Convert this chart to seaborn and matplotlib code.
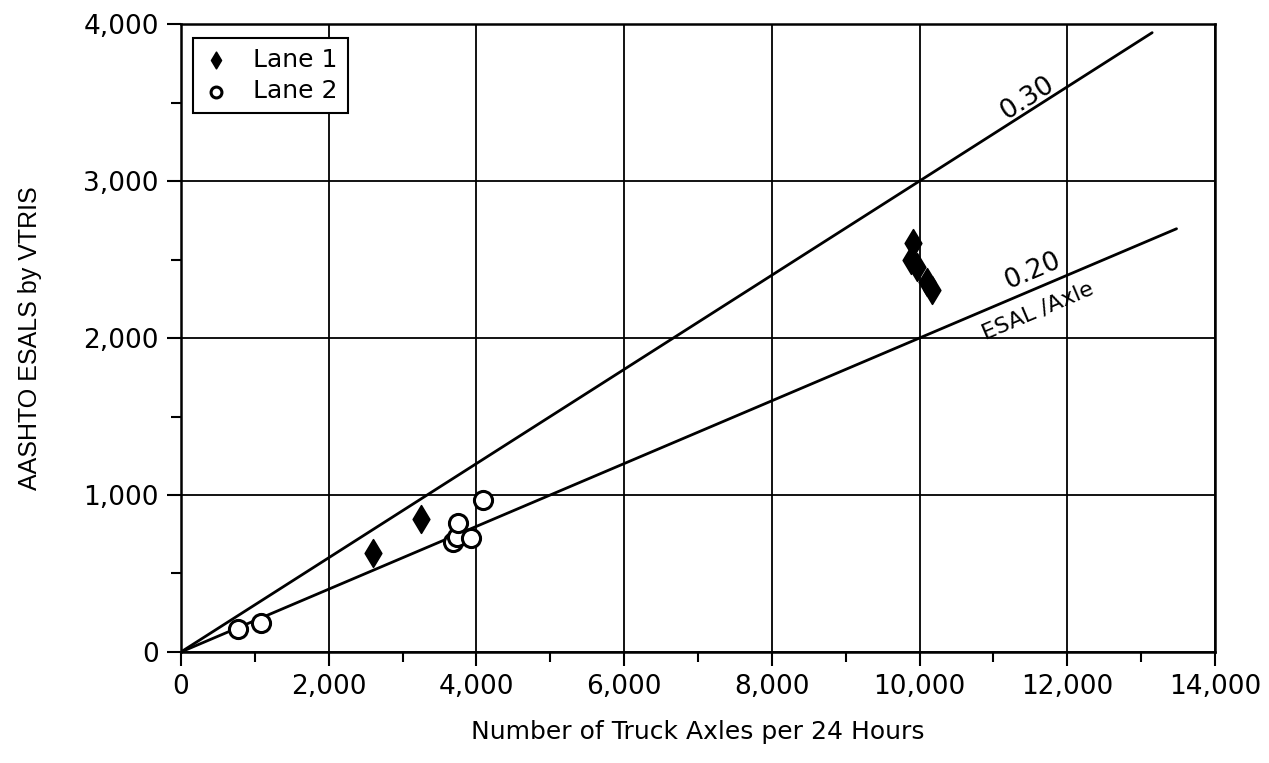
import matplotlib
matplotlib.use("Agg")
import matplotlib.pyplot as plt
from matplotlib.ticker import MultipleLocator, FuncFormatter
import seaborn as sns
import numpy as np

# data
lane1_x = [2604, 3249, 9915, 9879, 9961, 10096, 10164]
lane1_y = [632, 847, 2603, 2497, 2454, 2359, 2306]
lane2_x = [776, 1083, 3678, 3732, 3746, 3926, 4093]
lane2_y = [145, 183, 703, 734, 824, 728, 968]

rate_high = 0.30
rate_low = 0.20
line_end_high = 13150
line_end_low = 13480

sns.set_style("white")
plt.rcParams["font.family"] = ["DejaVu Sans"]
plt.rcParams.update({"text.color": "black", "axes.labelcolor": "black",
                     "xtick.color": "black", "ytick.color": "black"})

fig = plt.figure(figsize=(12.69, 7.63), dpi=100)
ax = fig.add_axes([0.1426, 0.1455, 0.8148, 0.823])

# reference lines (ESAL per axle)
for rate, xend in [(rate_high, line_end_high), (rate_low, line_end_low)]:
    xs = np.array([0, xend])
    sns.lineplot(x=xs, y=rate * xs, ax=ax, color="black", lw=2.0, zorder=2)

sns.scatterplot(x=lane1_x, y=lane1_y, marker="d", s=200, color="black", edgecolor="black",
                ax=ax, zorder=4, label="Lane 1")
sns.scatterplot(x=lane2_x, y=lane2_y, marker="o", s=170, facecolor="white", edgecolor="black",
                linewidth=2.2, ax=ax, zorder=4, label="Lane 2")

ax.set_xlim(0, 14000)
ax.set_ylim(0, 4000)
ax.xaxis.set_major_locator(MultipleLocator(2000))
ax.xaxis.set_minor_locator(MultipleLocator(1000))
ax.yaxis.set_major_locator(MultipleLocator(1000))
ax.yaxis.set_minor_locator(MultipleLocator(500))
fmt = FuncFormatter(lambda v, p: f"{int(v):,}")
ax.xaxis.set_major_formatter(fmt)
ax.yaxis.set_major_formatter(fmt)

ax.grid(True, which="major", color="black", lw=1.3)
ax.tick_params(which="major", direction="out", length=10, width=1.5, labelsize=19, pad=6)
ax.tick_params(which="minor", direction="out", length=7, width=1.5)
ax.tick_params(axis="x", which="both", bottom=True)
ax.tick_params(axis="y", which="both", left=True)
for sp in ax.spines.values():
    sp.set_color("black")
    sp.set_linewidth(1.8)

ax.set_xlabel("Number of Truck Axles per 24 Hours", fontsize=18, labelpad=14)
ax.set_ylabel("AASHTO ESALS by VTRIS", fontsize=18, family=["Liberation Sans", "DejaVu Sans"], labelpad=30)

# line labels
ax.text(11550, 3460, "0.30", rotation=32.5, fontsize=19, ha="center", va="bottom", rotation_mode="anchor")
ax.text(11600, 2350, "0.20", rotation=23, fontsize=19, ha="center", va="bottom", rotation_mode="anchor")
ax.text(11550, 2230, "ESAL /Axle", rotation=23, fontsize=16, ha="center", va="top", rotation_mode="anchor")

leg = ax.legend(loc="upper left", fontsize=18, frameon=True, fancybox=False, edgecolor="black",
                handlelength=1.0, handletextpad=1.0, borderpad=0.4, labelspacing=0.3,
                markerscale=0.6, bbox_to_anchor=(0.0, 0.998))
leg.get_frame().set_linewidth(1.5)
leg.get_frame().set_alpha(1)

fig.savefig("out.png", dpi=100)
